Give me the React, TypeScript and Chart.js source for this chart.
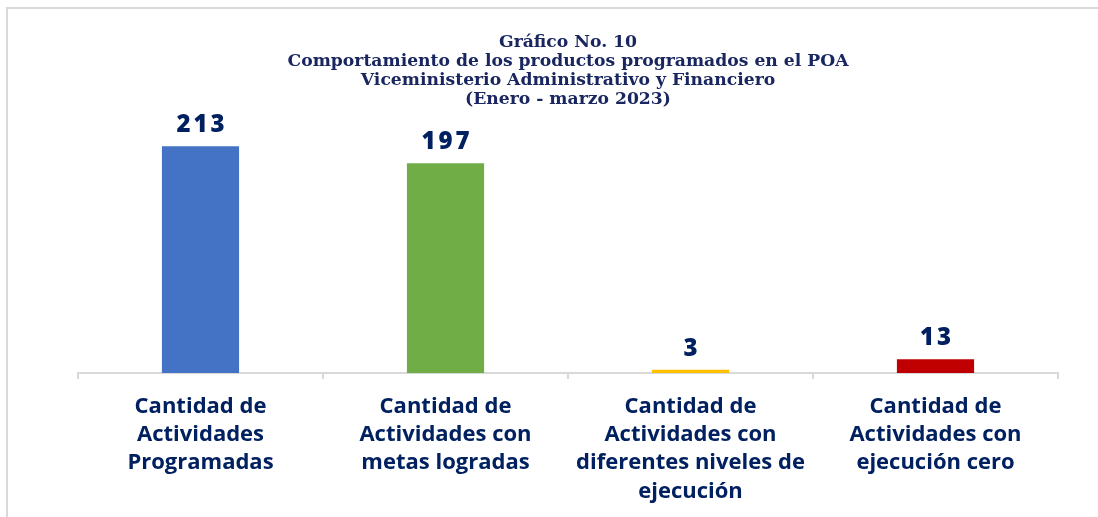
import React, { useEffect, useRef } from "react";
import { Chart, registerables } from "chart.js";

Chart.register(...registerables);

const categories: string[][] = [
  ["Cantidad de", "Actividades", "Programadas"],
  ["Cantidad de", "Actividades con", "metas logradas"],
  ["Cantidad de", "Actividades con", "diferentes niveles de", "ejecución"],
  ["Cantidad de", "Actividades con", "ejecución cero"],
];
const values: number[] = [213, 197, 3, 13];
const barColors: string[] = ["#4472C4", "#70AD47", "#FFC000", "#C00000"];
const titleLines: string[] = [
  "Gráfico No. 10",
  "Comportamiento de los productos programados en el POA",
  "Viceministerio Administrativo y Financiero",
  "(Enero - marzo 2023)",
];

const NAVY = "#002060";

const valueLabels = {
  id: "valueLabels",
  afterDatasetsDraw(chart: any) {
    const ctx = chart.ctx;
    const meta = chart.getDatasetMeta(0);
    ctx.save();
    ctx.fillStyle = NAVY;
    ctx.font = "800 24px 'Open Sans'";
    ctx.textAlign = "center";
    ctx.textBaseline = "bottom";
    try { (ctx as any).letterSpacing = "3px"; } catch (e) {}
    meta.data.forEach((bar: any, i: number) => {
      ctx.fillText(String(values[i]), bar.x + 1.5, bar.y - 9);
    });
    ctx.restore();
  },
};

export default function App() {
  const ref = useRef<HTMLCanvasElement>(null);
  useEffect(() => {
    if (!ref.current) return;
    const chart = new Chart(ref.current, {
      type: "bar",
      data: {
        labels: categories,
        datasets: [
          {
            data: values,
            backgroundColor: barColors,
            categoryPercentage: 1,
            barPercentage: 0.315,
          },
        ],
      },
      options: {
        responsive: false,
        animation: false,
        layout: { padding: { left: 78, right: 40, top: 0, bottom: 0 } },
        plugins: {
          legend: { display: false },
          tooltip: { enabled: false },
          title: {
            display: true,
            text: titleLines,
            color: "#1A2660",
            font: { family: "DejaVu Serif", weight: "bold", size: 17.2, lineHeight: 1.11 },
            padding: { top: 33, bottom: 8 },
          },
        },
        scales: {
          x: {
            grid: {
              offset: true,
              drawOnChartArea: false,
              drawTicks: true,
              tickLength: 6,
              color: "#d9d9d9",
              lineWidth: 2,
            },
            border: { color: "#d9d9d9", width: 2 },
            ticks: {
              color: NAVY,
              font: { family: "Open Sans", weight: "bold", size: 22, lineHeight: 1.295 },
              padding: 13,
              maxRotation: 0,
              autoSkip: false,
            },
            afterFit: (scale: any) => {
              scale.height = 144;
            },
          },
          y: { display: false, min: 0, max: 240 },
        },
      },
      plugins: [valueLabels],
    });
    return () => chart.destroy();
  }, []);
  return (
    <div style={{ position: "fixed", left: 0, top: 0, width: 1098, height: 517, overflow: "hidden", background: "#fff" }}>
      <div
        style={{
          position: "absolute",
          left: 6,
          top: 7,
          width: 1200,
          height: 600,
          borderTop: "2px solid #d9d9d9",
          borderLeft: "2px solid #d9d9d9",
        }}
      />
      <canvas ref={ref} width={1098} height={517} style={{ position: "absolute", left: 0, top: 0 }} />
    </div>
  );
}
